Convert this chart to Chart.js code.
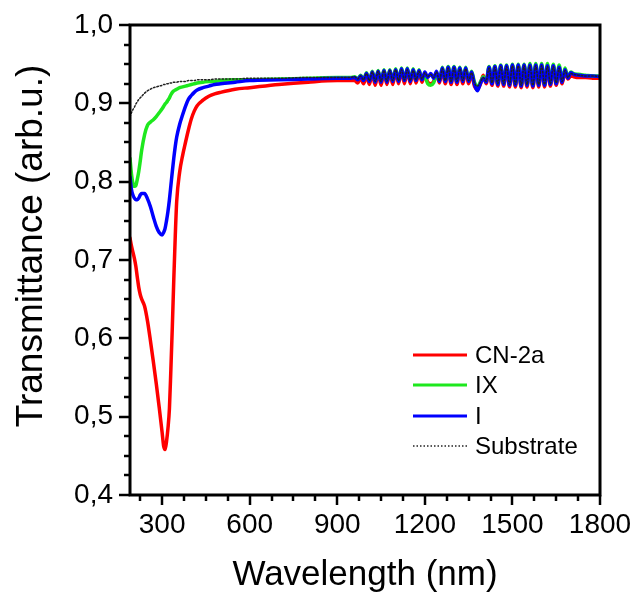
<!DOCTYPE html>
<html>
<head>
<meta charset="utf-8">
<script src="https://cdn.jsdelivr.net/npm/chart.js@4.4.1/dist/chart.umd.min.js"></script>
<style>
  html, body { margin: 0; padding: 0; background: #fff; }
  canvas { display: block; }
</style>
</head>
<body>
<canvas id="chart" width="635" height="593"></canvas>
<script>
// Wavelength grid (nm) shared by all spectra
const wavelength = [
  190, 195, 200, 205, 210, 215, 220, 225, 230, 240, 250, 260, 270, 280, 290,
  300, 305, 310, 315, 320, 325, 330, 335, 340, 345, 350, 360, 370, 380, 390,
  400, 410, 420, 440, 460, 480, 500, 550, 600, 700, 800, 900, 945,
  960, 970, 980, 990, 1000, 1010, 1020, 1030, 1040, 1050,
  1060, 1070, 1080, 1090, 1100, 1110, 1120, 1130, 1140, 1150,
  1160, 1170, 1180, 1190, 1200, 1210, 1220, 1230, 1240, 1250,
  1260, 1270, 1280, 1290, 1300, 1310, 1320, 1330, 1340, 1350,
  1360, 1370, 1380, 1390, 1400, 1410, 1420, 1430, 1440, 1450,
  1460, 1470, 1480, 1490, 1500, 1510, 1520, 1530, 1540, 1550,
  1560, 1570, 1580, 1590, 1600, 1610, 1620, 1630, 1640, 1650,
  1660, 1670, 1680, 1690,
  1700, 1710, 1725, 1750, 1775, 1800
];

// Transmittance of CN-2a
const cn2a = [
  0.728, 0.718, 0.710, 0.702, 0.692, 0.678, 0.665, 0.656, 0.650, 0.641, 0.622, 0.597, 0.570, 0.542, 0.512,
  0.480, 0.463, 0.458, 0.468, 0.485, 0.510, 0.560, 0.615, 0.675, 0.730, 0.775, 0.812, 0.833, 0.850, 0.866,
  0.880, 0.890, 0.897, 0.904, 0.909, 0.912, 0.914, 0.918, 0.920, 0.924, 0.927, 0.929, 0.929,
  0.929, 0.926, 0.932, 0.925, 0.935, 0.924, 0.938, 0.923, 0.939, 0.923,
  0.940, 0.924, 0.940, 0.924, 0.941, 0.925, 0.942, 0.925, 0.942, 0.925,
  0.941, 0.926, 0.940, 0.927, 0.937, 0.927, 0.925, 0.928, 0.937, 0.926,
  0.943, 0.925, 0.944, 0.924, 0.944, 0.924, 0.943, 0.925, 0.943, 0.925,
  0.938, 0.922, 0.918, 0.924, 0.936, 0.925, 0.944, 0.923, 0.945, 0.922,
  0.946, 0.922, 0.946, 0.921, 0.947, 0.921, 0.947, 0.920, 0.947, 0.921,
  0.947, 0.920, 0.947, 0.921, 0.947, 0.921, 0.946, 0.922, 0.946, 0.923,
  0.944, 0.925, 0.940, 0.931,
  0.935, 0.934, 0.933, 0.933, 0.932, 0.932
];

// Transmittance of IX
const ix = [
  0.830, 0.810, 0.798, 0.794, 0.795, 0.803, 0.813, 0.826, 0.840, 0.860, 0.872, 0.876, 0.879, 0.883, 0.888,
  0.893, 0.896, 0.899, 0.901, 0.904, 0.907, 0.911, 0.914, 0.916, 0.917, 0.918, 0.920, 0.921, 0.922, 0.923,
  0.924, 0.925, 0.926, 0.927, 0.928, 0.928, 0.929, 0.930, 0.930, 0.931, 0.932, 0.933, 0.933,
  0.934, 0.931, 0.936, 0.930, 0.939, 0.929, 0.941, 0.928, 0.942, 0.928,
  0.943, 0.928, 0.943, 0.929, 0.944, 0.929, 0.945, 0.930, 0.945, 0.929,
  0.944, 0.930, 0.943, 0.931, 0.934, 0.925, 0.923, 0.926, 0.936, 0.930,
  0.946, 0.929, 0.947, 0.928, 0.947, 0.928, 0.946, 0.929, 0.946, 0.929,
  0.941, 0.927, 0.921, 0.927, 0.934, 0.929, 0.947, 0.926, 0.948, 0.925,
  0.949, 0.925, 0.949, 0.924, 0.950, 0.924, 0.950, 0.923, 0.950, 0.924,
  0.951, 0.923, 0.951, 0.924, 0.951, 0.924, 0.951, 0.925, 0.950, 0.926,
  0.949, 0.928, 0.945, 0.934,
  0.940, 0.938, 0.937, 0.936, 0.935, 0.935
];

// Transmittance of I
const compoundI = [
  0.806, 0.790, 0.783, 0.779, 0.777, 0.777, 0.779, 0.783, 0.785, 0.785, 0.778, 0.768, 0.755, 0.743, 0.735,
  0.732, 0.735, 0.740, 0.750, 0.762, 0.777, 0.795, 0.813, 0.830, 0.845, 0.857, 0.873, 0.885, 0.896, 0.905,
  0.910, 0.914, 0.917, 0.920, 0.922, 0.924, 0.925, 0.927, 0.929, 0.930, 0.931, 0.932, 0.932,
  0.933, 0.930, 0.935, 0.929, 0.938, 0.928, 0.940, 0.927, 0.941, 0.927,
  0.942, 0.927, 0.942, 0.928, 0.943, 0.928, 0.944, 0.929, 0.944, 0.928,
  0.943, 0.929, 0.942, 0.930, 0.940, 0.933, 0.938, 0.932, 0.941, 0.928,
  0.945, 0.928, 0.946, 0.927, 0.946, 0.927, 0.945, 0.928, 0.945, 0.928,
  0.940, 0.924, 0.916, 0.925, 0.932, 0.927, 0.946, 0.925, 0.947, 0.924,
  0.948, 0.924, 0.948, 0.923, 0.949, 0.923, 0.949, 0.922, 0.949, 0.923,
  0.949, 0.922, 0.949, 0.923, 0.949, 0.923, 0.948, 0.924, 0.948, 0.925,
  0.946, 0.927, 0.943, 0.932,
  0.939, 0.937, 0.936, 0.935, 0.935, 0.934
];

// Transmittance of the bare substrate
const substrate = [
  0.883, 0.888, 0.892, 0.895, 0.899, 0.902, 0.905, 0.907, 0.909, 0.913, 0.916, 0.918, 0.920, 0.921, 0.922,
  0.923, 0.924, 0.924, 0.925, 0.925, 0.926, 0.926, 0.926, 0.927, 0.927, 0.927, 0.928, 0.928, 0.928, 0.929,
  0.929, 0.929, 0.930, 0.930, 0.930, 0.931, 0.931, 0.931, 0.932, 0.932, 0.933, 0.933, 0.933,
  0.934, 0.931, 0.935, 0.930, 0.938, 0.929, 0.940, 0.928, 0.941, 0.928,
  0.942, 0.928, 0.942, 0.929, 0.943, 0.929, 0.943, 0.930, 0.943, 0.929,
  0.942, 0.930, 0.941, 0.931, 0.939, 0.934, 0.937, 0.933, 0.940, 0.929,
  0.944, 0.929, 0.945, 0.928, 0.945, 0.928, 0.944, 0.929, 0.944, 0.929,
  0.939, 0.926, 0.922, 0.927, 0.933, 0.928, 0.945, 0.926, 0.946, 0.925,
  0.947, 0.925, 0.947, 0.924, 0.948, 0.924, 0.948, 0.923, 0.948, 0.924,
  0.948, 0.923, 0.948, 0.924, 0.948, 0.924, 0.947, 0.925, 0.947, 0.926,
  0.945, 0.928, 0.942, 0.933,
  0.938, 0.937, 0.936, 0.935, 0.935, 0.934
];

// Axis ticks
const xTicks = [300, 600, 900, 1200, 1500, 1800];
const yTicks = [0.4, 0.5, 0.6, 0.7, 0.8, 0.9, 1.0];
const xRange = [190, 1800];
const yRange = [0.4, 1.0];
const xMinorStep = 75;
const yMinorStep = 0.025;
const yTitle = 'Transmittance (arb.u.)';

const FONT = "'Liberation Sans', Arial, Helvetica, sans-serif";

const toPoints = values => wavelength.map((w, i) => ({ x: w, y: values[i] }));

// Frame, major/minor tick marks and the rotated y title
const frameAndTicks = {
  id: 'frameAndTicks',
  afterDraw(chart) {
    const { ctx, chartArea: a, scales: { x, y } } = chart;
    ctx.save();
    ctx.strokeStyle = '#000';
    ctx.lineCap = 'butt';
    ctx.lineWidth = 2.5;
    // x ticks (outward, below the axis)
    for (let v = xRange[0]; v <= xRange[1]; v += 1) {
      if (v % xMinorStep !== 0) continue;
      const major = v % 300 === 0;
      const px = Math.round(x.getPixelForValue(v));
      ctx.beginPath();
      ctx.moveTo(px, a.bottom);
      ctx.lineTo(px, a.bottom + (major ? 10 : 6));
      ctx.stroke();
    }
    // y ticks (outward, left of the axis)
    const n = Math.round((yRange[1] - yRange[0]) / yMinorStep);
    for (let i = 0; i <= n; i++) {
      const v = yRange[0] + i * yMinorStep;
      const major = i % 4 === 0;
      const py = Math.round(y.getPixelForValue(v));
      ctx.beginPath();
      ctx.moveTo(a.left, py);
      ctx.lineTo(a.left - (major ? 11 : 6), py);
      ctx.stroke();
    }
    // plot frame
    ctx.lineWidth = 3;
    ctx.strokeRect(a.left, a.top, a.right - a.left, a.bottom - a.top);

    // y axis title
    ctx.translate(32, 246);
    ctx.rotate(-Math.PI / 2);
    ctx.font = `37px ${FONT}`;
    ctx.fillStyle = '#000';
    ctx.textAlign = 'center';
    ctx.textBaseline = 'middle';
    ctx.fillText(yTitle, 0, 0);
    ctx.restore();
  }
};

// Legend inside the plot, lower right
const insideLegend = {
  id: 'insideLegend',
  afterDraw(chart) {
    const { ctx } = chart;
    const x0 = 413, x1 = 467, tx = 475;
    const rows = [355, 385, 416, 446];
    ctx.save();
    ctx.font = `24px ${FONT}`;
    ctx.textBaseline = 'middle';
    ctx.textAlign = 'left';
    chart.data.datasets.forEach((ds, i) => {
      const yy = rows[i];
      ctx.beginPath();
      ctx.strokeStyle = ds.borderColor;
      ctx.lineWidth = Math.min(ds.borderWidth, 3);
      ctx.setLineDash(ds.borderDash || []);
      ctx.moveTo(x0, yy);
      ctx.lineTo(x1, yy);
      ctx.stroke();
      ctx.setLineDash([]);
      ctx.fillStyle = '#000';
      ctx.fillText(ds.label, tx, yy + 1);
    });
    ctx.restore();
  }
};

new Chart(document.getElementById('chart'), {
  type: 'line',
  data: {
    datasets: [
      { label: 'CN-2a', data: toPoints(cn2a), borderColor: '#ff0000', borderWidth: 3.5, order: 4 },
      { label: 'IX', data: toPoints(ix), borderColor: '#1ee81e', borderWidth: 3.5, order: 3 },
      { label: 'I', data: toPoints(compoundI), borderColor: '#0000ff', borderWidth: 3.5, order: 2 },
      { label: 'Substrate', data: toPoints(substrate), borderColor: '#222222', borderWidth: 1.5, borderDash: [1.5, 2], order: 1 }
    ]
  },
  options: {
    responsive: false,
    animation: false,
    parsing: false,
    layout: { padding: { left: 0, right: 35, top: 25, bottom: 0 } },
    elements: {
      point: { radius: 0 },
      line: { cubicInterpolationMode: 'monotone', borderCapStyle: 'round', borderJoinStyle: 'round' }
    },
    plugins: {
      legend: { display: false },
      tooltip: { enabled: false }
    },
    scales: {
      x: {
        type: 'linear',
        min: xRange[0],
        max: xRange[1],
        grid: { display: false, drawTicks: false },
        border: { display: false },
        afterBuildTicks: s => { s.ticks = xTicks.map(v => ({ value: v })); },
        afterFit: s => { s.height = 98; s.paddingLeft = 0; s.paddingRight = 0; },
        ticks: {
          color: '#000',
          padding: 13,
          maxRotation: 0,
          font: { family: FONT, size: 28 },
          callback: v => String(v)
        },
        title: {
          display: true,
          text: 'Wavelength (nm)',
          color: '#000',
          font: { family: FONT, size: 35, lineHeight: 1 },
          padding: { top: 0, bottom: 0 }
        }
      },
      y: {
        type: 'linear',
        min: yRange[0],
        max: yRange[1],
        grid: { display: false, drawTicks: false },
        border: { display: false },
        afterBuildTicks: s => { s.ticks = yTicks.map(v => ({ value: v })); },
        afterFit: s => { s.width = 130; s.paddingTop = 0; s.paddingBottom = 0; },
        ticks: {
          color: '#000',
          padding: 17,
          font: { family: FONT, size: 28 },
          callback: v => v.toFixed(1).replace('.', ',')
        },
        title: { display: false }
      }
    }
  },
  plugins: [frameAndTicks, insideLegend]
});
</script>
</body>
</html>
